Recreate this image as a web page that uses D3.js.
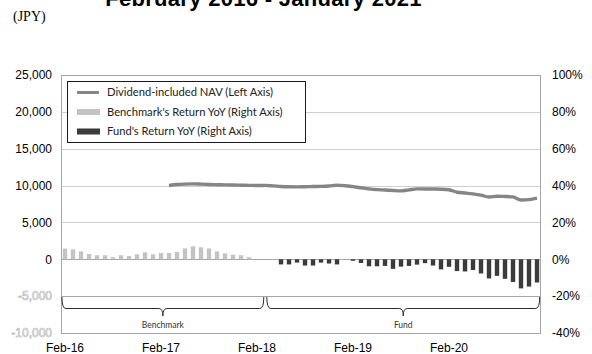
<!DOCTYPE html>
<html><head><meta charset="utf-8">
<script src="https://cdn.jsdelivr.net/npm/d3@7"></script>
<style>body{margin:0;background:#fff}svg{display:block}</style>
</head><body>
<svg id="c" width="592" height="354"></svg>
<script>
const months = [
 "Feb-16","Mar-16","Apr-16","May-16","Jun-16","Jul-16","Aug-16","Sep-16","Oct-16","Nov-16","Dec-16","Jan-17",
 "Feb-17","Mar-17","Apr-17","May-17","Jun-17","Jul-17","Aug-17","Sep-17","Oct-17","Nov-17","Dec-17","Jan-18",
 "Feb-18","Mar-18","Apr-18","May-18","Jun-18","Jul-18","Aug-18","Sep-18","Oct-18","Nov-18","Dec-18","Jan-19",
 "Feb-19","Mar-19","Apr-19","May-19","Jun-19","Jul-19","Aug-19","Sep-19","Oct-19","Nov-19","Dec-19","Jan-20",
 "Feb-20","Mar-20","Apr-20","May-20","Jun-20","Jul-20","Aug-20","Sep-20","Oct-20","Nov-20","Dec-20","Jan-21"];
const xTickLabels = ["Feb-16","Feb-17","Feb-18","Feb-19","Feb-20"];
const leftTicks = [-10000,-5000,0,5000,10000,15000,20000,25000];
const rightTicks = [-0.4,-0.2,0,0.2,0.4,0.6,0.8,1.0];
// Dividend-included NAV (JPY), left axis
const navValues = [
 null,null,null,null,null,null,null,null,null,null,null,null,
 null,10010,10140,10200,10230,10190,10150,10120,10100,10080,10050,10030,
 10010,10020,9960,9880,9840,9820,9850,9870,9890,9940,10050,9980,
 9850,9700,9550,9450,9400,9330,9280,9420,9550,9540,9530,9510,
 9440,9100,9000,8880,8700,8440,8560,8520,8460,8050,8100,8300];
// Benchmark's Return YoY (%), right axis
const benchmarkYoY = [
 5.8,5.4,4.3,2.9,2.2,2.2,1.1,2.2,1.8,2.7,3.8,2.7,
 3.4,3.4,4.0,5.9,7.0,6.5,5.9,4.3,3.2,2.5,2.2,1.1,
 null,null,null,null,null,null,null,null,null,null,null,null,
 null,null,null,null,null,null,null,null,null,null,null,null,
 null,null,null,null,null,null,null,null,null,null,null,null];
// Fund's Return YoY (%), right axis
const fundYoY = [
 null,null,null,null,null,null,null,null,null,null,null,null,
 null,null,null,null,null,null,null,null,null,null,null,null,
 null,null,null,-2.8,-2.8,-1.8,-3.4,-3.4,-1.8,-2.3,-2.8,null,
 -0.8,-2.0,-3.8,-3.8,-3.6,-5.2,-4.0,-3.6,-2.9,-2.1,-3.4,-5.5,
 -4.1,-6.4,-6.6,-5.8,-7.7,-10.4,-9.0,-10.6,-12.3,-15.8,-14.8,-12.6];
const legendLabels = ["Dividend-included NAV (Left Axis)","Benchmark's Return YoY (Right Axis)","Fund's Return YoY (Right Axis)"];
const braceLabels = ["Benchmark","Fund"];
const titleText = "February 2016 - January 2021";
const unitText = "(JPY)";

const svg = d3.select("#c");
const m = {left:61, right:541, top:75, bottom:333};
const COL_NAV = "#858585", COL_BM = "#c3c3c3", COL_FUND = "#3b3b3b", COL_GRID = "#cfcfcf";

const x = d3.scaleBand().domain(months).range([m.left, m.right]).paddingInner(0.45).paddingOuter(0.225);
const yL = d3.scaleLinear().domain([-10000, 25000]).range([m.bottom, m.top]);
const yR = d3.scaleLinear().domain([-0.4, 1.0]).range([m.bottom, m.top]);

// gridlines
svg.append("g").selectAll("line").data(leftTicks).join("line")
  .attr("x1", m.left).attr("x2", m.right)
  .attr("y1", d => Math.round(yL(d)) + 0.5).attr("y2", d => Math.round(yL(d)) + 0.5)
  .attr("stroke", d => (d === 0 || d === -5000 || d === -10000 || d === 25000) ? "#a6a6a6" : COL_GRID)
  .attr("stroke-width", 1);
// frame verticals
svg.append("line").attr("x1", m.left + 0.5).attr("x2", m.left + 0.5).attr("y1", m.top).attr("y2", m.bottom)
  .attr("stroke", "#a6a6a6");
svg.append("line").attr("x1", m.right - 0.5).attr("x2", m.right - 0.5).attr("y1", m.top).attr("y2", m.bottom)
  .attr("stroke", "#a6a6a6");

// bars
const bars = svg.append("g");
bars.selectAll("rect.bm").data(months.map((mth, i) => ({mth, v: benchmarkYoY[i]})).filter(d => d.v != null))
  .join("rect").attr("class", "bm")
  .attr("x", d => x(d.mth)).attr("width", x.bandwidth())
  .attr("y", d => yR(d.v / 100)).attr("height", d => yR(0) - yR(d.v / 100))
  .attr("fill", COL_BM);
bars.selectAll("rect.fd").data(months.map((mth, i) => ({mth, v: fundYoY[i]})).filter(d => d.v != null))
  .join("rect").attr("class", "fd")
  .attr("x", d => x(d.mth)).attr("width", x.bandwidth())
  .attr("y", d => yR(0)).attr("height", d => yR(d.v / 100) - yR(0))
  .attr("fill", COL_FUND);

// NAV line
const navData = months.map((mth, i) => ({mth, v: navValues[i]})).filter(d => d.v != null);
svg.append("path").datum(navData)
  .attr("fill", "none").attr("stroke", COL_NAV).attr("stroke-width", 3.4)
  .attr("stroke-linejoin", "round")
  .attr("d", d3.line().x(d => x(d.mth) + x.bandwidth() / 2).y(d => yL(d.v)).curve(d3.curveMonotoneX));

// axes
const fmtL = d => d3.format(",")(d).replace("\u2212", "-");
const gL = svg.append("g").attr("transform", `translate(${m.left},0)`)
  .call(d3.axisLeft(yL).tickValues(leftTicks).tickSize(0).tickPadding(9).tickFormat(fmtL));
gL.select(".domain").remove();
gL.selectAll("text").attr("font-family", "'Liberation Sans', Arial, sans-serif").attr("font-size", 12)
  .attr("fill", "#000")
  .each(function(d) {
    if (d < 0) d3.select(this).attr("fill", "#fff").attr("stroke", "#b4b4b4").attr("stroke-width", 0.6);
  });

const gR = svg.append("g").attr("transform", `translate(${m.right},0)`)
  .call(d3.axisRight(yR).tickValues(rightTicks).tickSize(0).tickPadding(11).tickFormat(d => Math.round(d * 100) + "%"));
gR.select(".domain").remove();
gR.selectAll("text").attr("font-family", "'Liberation Sans', Arial, sans-serif").attr("font-size", 12).attr("fill", "#000");

const gX = svg.append("g").attr("transform", `translate(0,${m.bottom})`)
  .call(d3.axisBottom(x).tickValues(xTickLabels).tickSize(0).tickPadding(10.5));
gX.select(".domain").remove();
gX.selectAll("text").attr("font-family", "'Liberation Sans', Arial, sans-serif").attr("font-size", 12).attr("fill", "#000");

// braces
function bracePath(x0, x1, yTop, yMid, yTip, r) {
  const cx = (x0 + x1) / 2;
  return `M${x0},${yTop} Q${x0},${yMid} ${x0 + r},${yMid} L${cx - r},${yMid} Q${cx},${yMid} ${cx},${yTip}` +
         ` Q${cx},${yMid} ${cx + r},${yMid} L${x1 - r},${yMid} Q${x1},${yMid} ${x1},${yTop}`;
}
const step = x.step();
const braces = [
  {x0: x(months[0]) - x.bandwidth() * 0.2, x1: x("Feb-18") + step + 1, label: braceLabels[0]},
  {x0: x("Feb-18") + step + 4, x1: x(months[59]) + x.bandwidth() + 0.5, label: braceLabels[1]}
];
const gB = svg.append("g");
gB.selectAll("path").data(braces).join("path")
  .attr("d", d => bracePath(d.x0, d.x1, 297, 308.5, 316, 4))
  .attr("fill", "none").attr("stroke", "#2b2b2b").attr("stroke-width", 1);
gB.selectAll("text").data(braces).join("text")
  .attr("x", d => (d.x0 + d.x1) / 2).attr("y", 328).attr("text-anchor", "middle")
  .attr("font-family", "Lato, 'Open Sans', sans-serif").attr("font-size", 8.5).attr("fill", "#333")
  .text(d => d.label);

// legend
const lg = svg.append("g");
lg.append("rect").attr("x", 67.5).attr("y", 81.5).attr("width", 238).attr("height", 61)
  .attr("fill", "#fff").attr("stroke", "#1a1a1a").attr("stroke-width", 1);
const ly = [92.5, 112, 131.5];
lg.append("line").attr("x1", 77).attr("x2", 99).attr("y1", ly[0]).attr("y2", ly[0])
  .attr("stroke", COL_NAV).attr("stroke-width", 3);
lg.append("rect").attr("x", 77).attr("y", ly[1] - 3).attr("width", 23).attr("height", 6).attr("fill", COL_BM);
lg.append("rect").attr("x", 77).attr("y", ly[2] - 3).attr("width", 23).attr("height", 6).attr("fill", COL_FUND);
lg.selectAll("text").data(legendLabels).join("text")
  .attr("x", 107).attr("y", (d, i) => ly[i]).attr("dy", "0.35em")
  .attr("font-family", "Lato, 'Open Sans', sans-serif").attr("font-size", 11.2).attr("fill", "#222")
  .text(d => d);

// title and unit
svg.append("text").attr("x", 263.5).attr("y", 6).attr("text-anchor", "middle")
  .attr("font-family", "'Liberation Sans', Arial, sans-serif").attr("font-weight", "bold").attr("font-size", 22)
  .attr("letter-spacing", 0.3).attr("fill", "#000").text(titleText);
svg.append("text").attr("x", 13).attr("y", 21)
  .attr("font-family", "'Liberation Serif', 'Times New Roman', serif").attr("font-size", 14).attr("fill", "#000")
  .text(unitText);
</script>
</body></html>
